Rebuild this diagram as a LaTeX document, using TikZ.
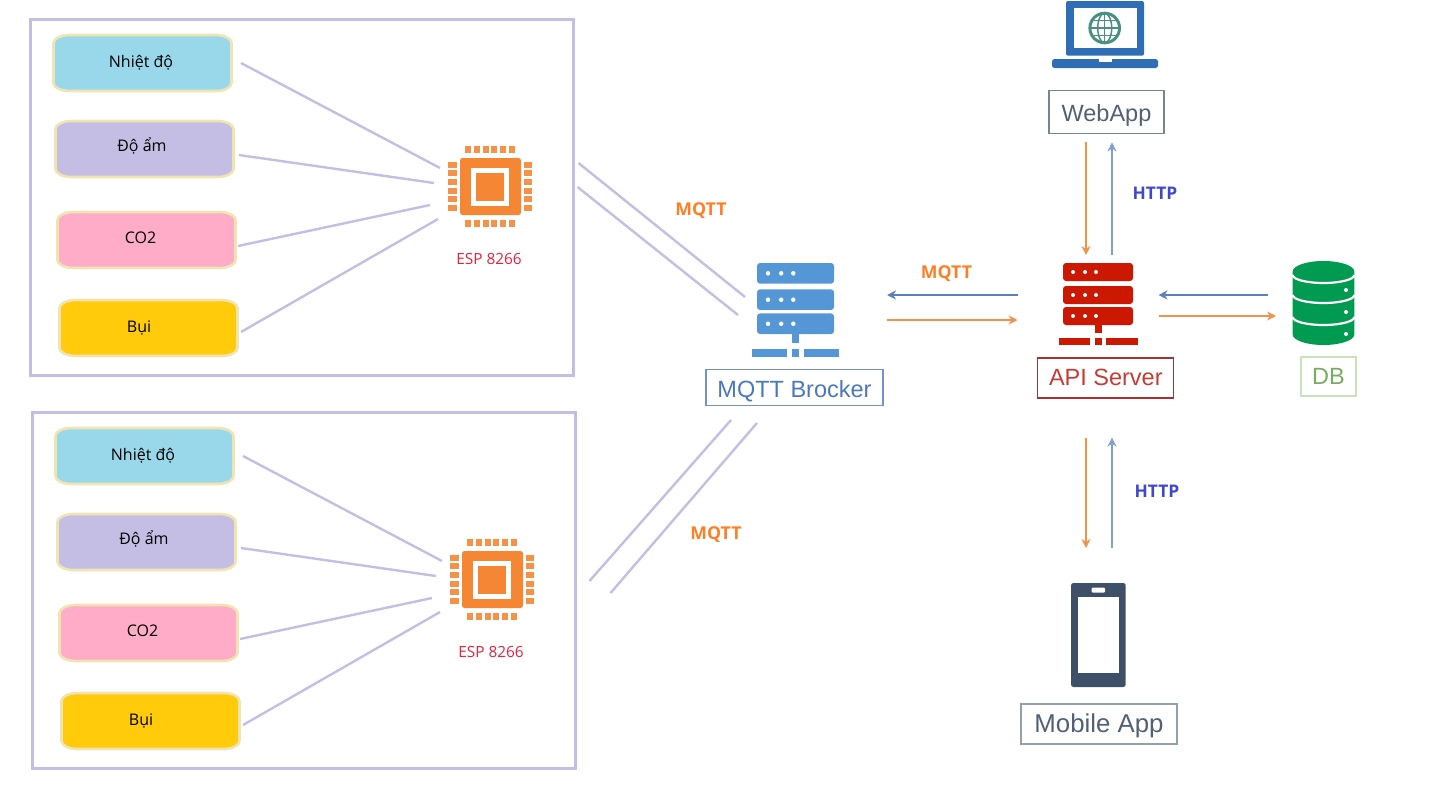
\documentclass[tikz,border=0pt]{standalone}
\usepackage{fontspec}
\setmainfont{Open Sans}
\newfontfamily\arialfont{Liberation Sans}
\usepackage{tikz}
\usetikzlibrary{arrows.meta,positioning}

\definecolor{wirelav}{HTML}{C5BEE4}
\definecolor{sensorborder}{HTML}{F0E4B2}
\definecolor{tempblue}{HTML}{98D8EA}
\definecolor{coxpink}{HTML}{FFACC8}
\definecolor{dustyellow}{HTML}{FFCB0A}
\definecolor{chiporange}{HTML}{F58634}
\definecolor{espred}{HTML}{E9203C}
\definecolor{mqttorange}{HTML}{FF7F27}
\definecolor{httpblue}{HTML}{3F48CC}
\definecolor{arroworange}{HTML}{F4914B}
\definecolor{arrowblue}{HTML}{5B7FBF}
\definecolor{arrowpale}{HTML}{7FA0D0}
\definecolor{serverblue}{HTML}{5496D6}
\definecolor{brokertext}{HTML}{4A78BE}
\definecolor{serverred}{HTML}{CC1800}
\definecolor{apitext}{HTML}{C43C34}
\definecolor{apiborder}{HTML}{A83232}
\definecolor{dbgreen}{HTML}{009A50}
\definecolor{dbtext}{HTML}{7AAB63}
\definecolor{dbborder}{HTML}{C8E3BC}
\definecolor{laptopblue}{HTML}{2F6DB5}
\definecolor{globeteal}{HTML}{4A9080}
\definecolor{phoneslate}{HTML}{3D5068}

\begin{document}
\begin{tikzpicture}[
    x=1pt,
    y=-1pt,
    frame/.style={
        draw=wirelav,
        line width=3pt,
        minimum width=543pt,
        minimum height=356pt
    },
    sensor/.style={
        inner sep=0pt,
        outer sep=0pt,
        minimum width=181pt,
        minimum height=58pt
    },
    sensorline/.style={
        draw=sensorborder,
        line width=2.6pt
    },
    sensortext/.style={
        text=black,
        font=\fontsize{16}{18}\selectfont
    },
    wire/.style={
        draw=wirelav,
        line width=2.4pt
    },
    espname/.style={
        text=espred,
        font=\fontsize{15.4}{18}\selectfont
    },
    iconbox/.style={
        inner sep=0pt,
        outer sep=0pt
    },
    namebox/.style={
        draw,
        line width=1.3pt,
        inner sep=0pt,
        text depth=0pt,
        font=\arialfont\fontsize{23.5}{26}\selectfont
    },
    mqttlabel/.style={
        text=mqttorange,
        font=\fontsize{17.7}{20}\bfseries\selectfont
    },
    httplabel/.style={
        text=httpblue,
        font=\fontsize{17.4}{20}\bfseries\selectfont
    },
    orangearrow/.style={
        -{Stealth[length=9pt,width=9pt]},
        draw=arroworange,
        line width=2.4pt
    },
    bluearrow/.style={
        -{Stealth[length=9pt,width=9pt]},
        draw=arrowblue,
        line width=2.4pt
    },
    sensorpic/.pic={
        \path[pic actions] (-89,-20) arc[start angle=180, end angle=90, x radius=16pt, y radius=8pt]
            -- (73,-28) arc[start angle=90, end angle=0, x radius=16pt, y radius=8pt]
            -- (89,20) arc[start angle=0, end angle=-90, x radius=16pt, y radius=8pt]
            -- (-73,28) arc[start angle=-90, end angle=-180, x radius=16pt, y radius=8pt] -- cycle;
    },
    chippic/.pic={
        \fill[chiporange, rounded corners=2.5pt] (-30.5,-28.5) rectangle (30.5,28.5);
        \fill[white] (-20,-19) rectangle (18,19.5);
        \fill[chiporange] (-14.5,-14) rectangle (13.5,14);
        \foreach \px in {-22.5,-13.5,-4.5,3.5,12.5,21.5} {
            \fill[chiporange!90] (\px-2.6,-41) rectangle (\px+2.6,-33.5);
            \fill[chiporange!90] (\px-2.6,33.5) rectangle (\px+2.6,40.5);
        }
        \foreach \py in {-21.5,-13.5,-4.5,4.5,12.5,21.5} {
            \fill[chiporange!90] (-43,\py-2.6) rectangle (-34,\py+2.6);
            \fill[chiporange!90] (33.5,\py-2.6) rectangle (41.5,\py+2.6);
        }
    },
    serverpic/.pic={
        % three racks, stem and base
        \foreach \ry in {0,23,44} {
            \fill[pic actions, rounded corners=3pt] (-35,\ry) rectangle (35,\ry+18);
            \foreach \rx in {-25,-13,-2} {
                \fill[white] (\rx,\ry+9) circle[radius=2pt];
            }
        }
        \fill[pic actions] (-3.5,62) rectangle (3.5,70);
        \fill[pic actions] (-39.5,75) rectangle (-8,82);
        \fill[pic actions] (-3.5,75) rectangle (3.5,82);
        \fill[pic actions] (8,75) rectangle (39.5,82);
    }
]

\useasboundingbox (0,0) rectangle (1450,788);

% Sensor groups
\foreach \g/\dx/\dy in {a/0/0,b/2/393} {
    \begin{scope}[shift={(\dx,\dy)}]
        \node[frame] (\g-frame) at (301.5,197) {};

        \pic[sensorline, fill=tempblue] at (142.5,63) {sensorpic};
        \pic[sensorline, fill=wirelav] at (144.5,149) {sensorpic};
        \pic[sensorline, fill=coxpink] at (146.5,240) {sensorpic};
        \pic[sensorline, fill=dustyellow] at (148.5,328) {sensorpic};
        \node[sensor] (\g-temp) at (142.5,63) {};
        \node[sensor] (\g-humid) at (144.5,149) {};
        \node[sensor] (\g-co) at (146.5,240) {};
        \node[sensor] (\g-dust) at (148.5,328) {};
        \node[sensortext] (\g-templabel) at (141,63) {Nhiệt độ};
        \node[sensortext] (\g-humidlabel) at (142,146) {Độ ẩm};
        \node[sensortext] (\g-colabel) at (140.5,238) {CO2};
        \node[sensortext] (\g-dustlabel) at (139,328) {Bụi};

        % ESP board
        \node[iconbox, minimum width=85pt, minimum height=82pt] (\g-chip) at (490.5,186.5) {};
        \pic at (\g-chip.center) {chippic};
        \node[espname] (\g-esp) at (489,259) {ESP 8266};

        % Sensors to board
        \coordinate (\g-in1) at (440,168);
        \coordinate (\g-in2) at (434,183);
        \coordinate (\g-in3) at (430,205);
        \coordinate (\g-in4) at (438,219);
        \draw[wire] ([xshift=8pt]\g-temp.east) -- (\g-in1);
        \draw[wire] ([shift={(4pt,-6pt)}]\g-humid.east) -- (\g-in2);
        \draw[wire] ([shift={(1pt,-6pt)}]\g-co.east) -- (\g-in3);
        \draw[wire] ([shift={(2pt,-4pt)}]\g-dust.east) -- (\g-in4);
    \end{scope}
}

% MQTT broker
\node[iconbox, minimum width=87pt, minimum height=94pt] (brokericon) at (795.5,310) {};
\pic[fill=serverblue, xscale=1.1, yscale=1.146] at (795.5,263) {serverpic};
\node[namebox, draw=arrowblue!85, text=brokertext, minimum width=177pt, minimum height=36pt, text height=20pt] (broker) at (794.5,387.5) {MQTT Brocker};

% API server
\node[iconbox, minimum width=79pt, minimum height=82pt] (apiicon) at (1098,304) {};
\pic[fill=serverred] at (1098,263) {serverpic};
\node[namebox, draw=apiborder, text=apitext, minimum width=136pt, minimum height=40pt, text height=15pt] (api) at (1105.8,378) {API Server};

% Database
\node[iconbox, minimum width=61pt, minimum height=84pt] (dbicon) at (1323.5,303) {};
\fill[dbgreen] (1292.7,271.5) arc[start angle=180, end angle=0, x radius=30.8pt, y radius=10.5pt]
    -- (1354.3,334.5) arc[start angle=360, end angle=180, x radius=30.8pt, y radius=10.5pt] -- cycle;
\foreach \ly in {275,295,317} {
    \draw[white, line width=2.2pt] (1292.7,\ly) arc[start angle=180, end angle=360, x radius=30.8pt, y radius=8pt];
}
\foreach \ly in {290,312,334} {
    \fill[white] (1346,\ly) circle[radius=2pt];
}
\node[namebox, draw=dbborder, text=dbtext, minimum width=55pt, minimum height=39pt] (db) at (1328.4,376.5) {DB};

% Web app
\node[iconbox, minimum width=106pt, minimum height=68pt] (webicon) at (1105,34) {};
\fill[laptopblue, rounded corners=2pt] (1066,1) rectangle (1144,55.7);
\fill[white] (1074,8) rectangle (1136.7,48);
\fill[laptopblue, rounded corners=2.5pt] (1052,59) rectangle (1158,68);
\fill[white] (1099,59) rectangle (1112,62);
\draw[globeteal, line width=3pt] (1104.7,28) circle[radius=14.8pt];
\draw[globeteal, line width=1.5pt] (1104.7,28) ellipse[x radius=7pt, y radius=14.8pt];
\draw[globeteal, line width=1.5pt] (1104.7,13.2) -- (1104.7,42.8);
\draw[globeteal, line width=1.5pt] (1089.9,28) -- (1119.5,28);
\draw[globeteal, line width=1.5pt] (1092,20.5) -- (1117.4,20.5);
\draw[globeteal, line width=1.5pt] (1092,35.5) -- (1117.4,35.5);
\node[namebox, draw=phoneslate!70, text=phoneslate!90, minimum width=115pt, minimum height=43pt, text height=18.4pt] (web) at (1106.5,112.3) {WebApp};

% Mobile app
\node[iconbox, minimum width=55pt, minimum height=104pt] (phoneicon) at (1098.4,635) {};
\fill[phoneslate, rounded corners=2.5pt] (1071,583) rectangle (1125.7,687);
\fill[white] (1077.7,597) rectangle (1119,673);
\fill[white, rounded corners=1pt] (1091.7,587.7) rectangle (1105,592.7);
\node[namebox, draw=phoneslate!55, text=phoneslate!90, minimum width=156pt, minimum height=40pt, text height=17.6pt, font=\arialfont\fontsize{25.8}{28}\selectfont] (mobile) at (1099,724) {Mobile App};

% ESP boards to broker
\coordinate (brk1) at (745,297);
\coordinate (brk2) at (738,315);
\coordinate (brk3) at (731,420);
\coordinate (brk4) at (757,423);
\draw[wire] ([shift={(4pt,34pt)}]a-frame.east) -- (brk1);
\draw[wire] ([shift={(3pt,10pt)}]a-frame.east) -- (brk2);
\draw[wire] ([shift={(13pt,9pt)}]b-frame.east) -- (brk3);
\draw[wire] ([shift={(34pt,-3pt)}]b-frame.east) -- (brk4);

% Broker and API server
\draw[bluearrow, shorten <=41pt, shorten >=48pt] ([yshift=9pt]apiicon.west) -- ([yshift=15pt]brokericon.east);
\draw[orangearrow, shorten <=48pt, shorten >=41pt] ([yshift=-10pt]brokericon.east) -- ([yshift=-16pt]apiicon.west);

% API server and database
\draw[bluearrow, shorten <=25pt, shorten >=21pt] ([yshift=8pt]dbicon.west) -- ([yshift=9pt]apiicon.east);
\draw[orangearrow, shorten <=21pt, shorten >=17pt] ([yshift=-12pt]apiicon.east) -- ([yshift=-13pt]dbicon.west);

% Web app and API server
\draw[orangearrow, line width=2.6pt, shorten <=8pt, shorten >=8pt] ([xshift=-20.5pt]web.south) -- ([xshift=-12pt]apiicon.north);
\draw[bluearrow, draw=arrowpale, line width=2.8pt, shorten <=8pt, shorten >=8pt] ([xshift=14pt]apiicon.north) -- ([xshift=5.5pt]web.south);

% API server and mobile app
\draw[orangearrow, line width=2.6pt, shorten <=39pt, shorten >=35pt] ([xshift=-19.8pt]api.south) -- ([xshift=-12.4pt]phoneicon.north);
\draw[bluearrow, draw=arrowpale, line width=2.8pt, shorten <=35pt, shorten >=39pt] ([xshift=13.6pt]phoneicon.north) -- ([xshift=6.2pt]api.south);

% Protocol labels
\node[mqttlabel] (mqtta) at (701,211) {MQTT};
\node[mqttlabel] (mqttb) at (716,535) {MQTT};
\node[mqttlabel] (mqttc) at (946.5,274) {MQTT};
\node[httplabel] (httpa) at (1155,193) {HTTP};
\node[httplabel] (httpb) at (1157,491) {HTTP};

\end{tikzpicture}
\end{document}
